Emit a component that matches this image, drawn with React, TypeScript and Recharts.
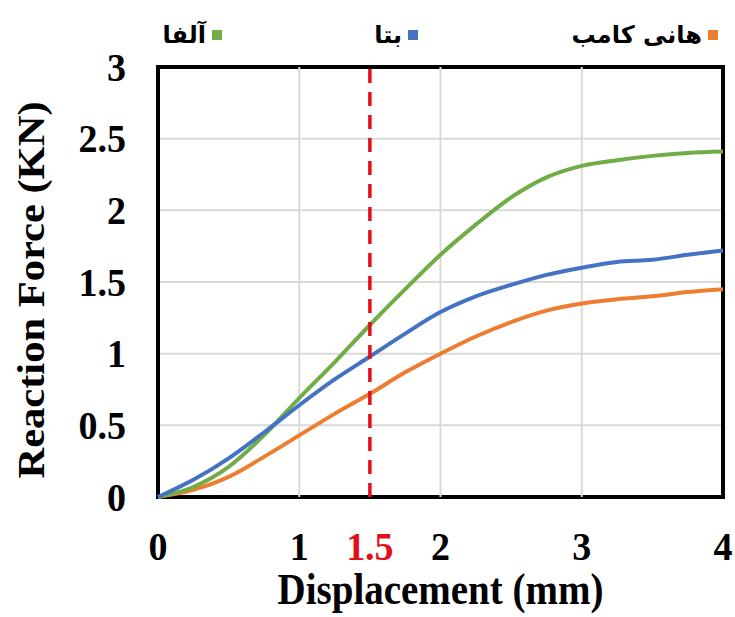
import React from 'react';
import {
  LineChart,
  Line,
  XAxis,
  YAxis,
  CartesianGrid,
  ReferenceLine,
  ReferenceArea,
  Legend,
  Label,
} from 'recharts';

// displacement (mm) and reaction force (KN)
const displacement = [0, 0.25, 0.5, 0.75, 1, 1.25, 1.5, 1.75, 2, 2.25, 2.5, 2.75, 3, 3.25, 3.5, 3.75, 4];
const alfa = [0, 0.07, 0.21, 0.43, 0.69, 0.94, 1.2, 1.45, 1.69, 1.9, 2.09, 2.23, 2.31, 2.35, 2.38, 2.4, 2.41];
const beta = [0, 0.12, 0.27, 0.45, 0.64, 0.82, 0.98, 1.14, 1.29, 1.4, 1.48, 1.55, 1.6, 1.64, 1.655, 1.69, 1.72];
const honeycomb = [0, 0.05, 0.14, 0.28, 0.43, 0.58, 0.72, 0.87, 1.0, 1.12, 1.22, 1.3, 1.35, 1.38, 1.4, 1.43, 1.45];

const xTicks = [0, 1, 1.5, 2, 3, 4];
const yTicks = [0, 0.5, 1, 1.5, 2, 2.5, 3];
const gridX = [1, 2, 3];
const markerX = 1.5;

const SERIES = [
  { key: 'honeycomb', name: 'هانی کامب', color: '#ED7D31' },
  { key: 'alfa', name: 'آلفا', color: '#70AD47' },
  { key: 'beta', name: 'بتا', color: '#4472C4' },
];

const data = displacement.map((x, i) => ({
  x,
  alfa: alfa[i],
  beta: beta[i],
  honeycomb: honeycomb[i],
}));

const SERIF = '"Liberation Serif", "Times New Roman", serif';
const STRETCH = 1.06;

// legend items sit right-to-left, distance from the right edge of the chart
const LEGEND_RIGHT: Record<string, number> = { honeycomb: 17, beta: 317, alfa: 513 };

function RtlLegend({ payload }: any) {
  return (
    <div style={{ position: 'relative', width: 735, height: 60 }}>
      {(payload || []).map((p: any) => (
        <div
          key={p.dataKey}
          style={{
            position: 'absolute',
            right: LEGEND_RIGHT[p.dataKey],
            top: 20,
            display: 'flex',
            alignItems: 'center',
            gap: 6,
            direction: 'rtl',
            fontFamily: '"DejaVu Sans", sans-serif',
            fontWeight: 'bold',
            fontSize: 24,
            lineHeight: '30px',
            color: '#000',
          }}
        >
          <span style={{ width: 10, height: 10, background: p.color, display: 'inline-block' }} />
          <span>{p.value}</span>
        </div>
      ))}
    </div>
  );
}

function XTick({ x, y, payload }: any) {
  const red = payload.value === markerX;
  return (
    <g transform={`translate(${x},${y + 61}) scale(1,${STRETCH})`}>
      <text x={0} y={0} textAnchor="middle" fontFamily={SERIF} fontWeight="bold" fontSize={38} fill={red ? '#E3101A' : '#000'}>
        {payload.value}
      </text>
    </g>
  );
}

function YTick({ x, y, payload }: any) {
  return (
    <g transform={`translate(${x - 30},${y}) scale(1,${STRETCH})`}>
      <text x={0} y={0} dy={13} textAnchor="end" fontFamily={SERIF} fontWeight="bold" fontSize={38} fill="#000">
        {payload.value}
      </text>
    </g>
  );
}

function XTitle({ viewBox }: any) {
  const cx = viewBox.x + viewBox.width / 2;
  return (
    <g transform={`translate(${cx},${viewBox.y + 107}) scale(1,1.15)`}>
      <text x={0} y={0} textAnchor="middle" fontFamily={SERIF} fontWeight="bold" fontSize={39} fill="#000">
        Displacement (mm)
      </text>
    </g>
  );
}

function YTitle({ viewBox }: any) {
  const cy = viewBox.y + viewBox.height / 2 + 8;
  return (
    <g transform={`translate(44,${cy}) scale(1,1.15) rotate(-90)`}>
      <text x={0} y={0} textAnchor="middle" fontFamily={SERIF} fontWeight="bold" fontSize={37} fill="#000">
        Reaction Force (KN)
      </text>
    </g>
  );
}

export default function App() {
  return (
    <div style={{ position: 'absolute', left: 0, top: 0, width: 735, height: 617, background: '#fff' }}>
      <LineChart width={735} height={617} data={data} margin={{ top: 67, right: 12, bottom: 0, left: 0 }}>
        <CartesianGrid vertical={false} stroke="#d9d9d9" strokeWidth={2} />
        {gridX.map((g) => (
          <ReferenceLine key={g} x={g} stroke="#d9d9d9" strokeWidth={2} />
        ))}
        <XAxis
          dataKey="x"
          type="number"
          domain={[0, 4]}
          ticks={xTicks}
          interval={0}
          axisLine={false}
          tickLine={false}
          tickSize={0}
          height={120}
          tick={<XTick />}
        >
          <Label content={<XTitle />} />
        </XAxis>
        <YAxis
          type="number"
          domain={[0, 3]}
          ticks={yTicks}
          interval={0}
          axisLine={false}
          tickLine={false}
          tickSize={0}
          width={158}
          tick={<YTick />}
        >
          <Label content={<YTitle />} />
        </YAxis>
        <Legend
          layout="horizontal"
          verticalAlign="middle"
          align="center"
          content={<RtlLegend />}
          wrapperStyle={{ top: 0, left: 0, width: 735, height: 60 }}
        />
        {SERIES.map((s) => (
          <Line
            key={s.key}
            dataKey={s.key}
            name={s.name}
            stroke={s.color}
            strokeWidth={4}
            type="monotone"
            dot={false}
            isAnimationActive={false}
          />
        ))}
        <ReferenceLine x={markerX} stroke="#E3101A" strokeWidth={3.5} strokeDasharray="14 9" />
        <ReferenceArea x1={0} x2={4} y1={0} y2={3} fill="none" stroke="#000" strokeWidth={4} ifOverflow="visible" />
      </LineChart>
    </div>
  );
}
